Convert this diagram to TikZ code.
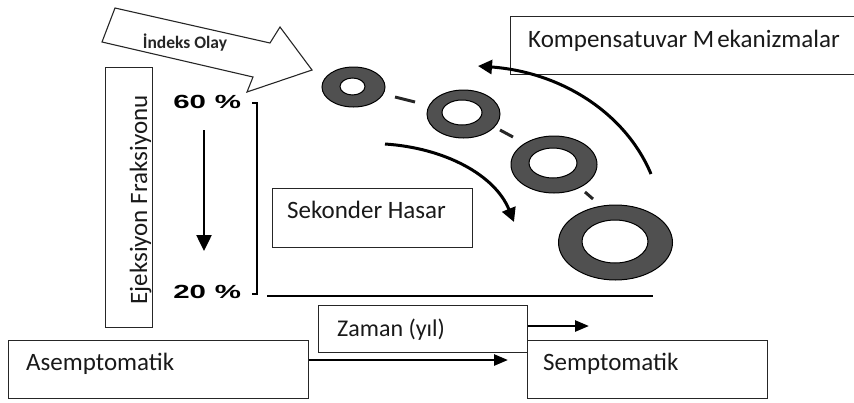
\documentclass[tikz,border=0pt]{standalone}
\usepackage{fontspec}
\setmainfont{Carlito}
\newfontfamily\arialfont{Liberation Sans}
\usetikzlibrary{arrows.meta,calc}
\definecolor{ringgray}{HTML}{505050}
\begin{document}
\begin{tikzpicture}[x=1pt,y=-1pt,
  box/.style={draw=black!85,line width=1.3pt,rectangle,inner sep=0pt,anchor=north west},
  lbl/.style={inner sep=0pt,anchor=base west,font=\fontsize{25}{30}\selectfont,text=black!90},
  pct/.style={inner sep=0pt,anchor=base west,xscale=1.55,font=\arialfont\bfseries\fontsize{19}{23}\selectfont},
  ring/.style={draw=black,line width=1pt,fill=ringgray,even odd rule},
  thick arrow/.style={line width=3pt,-{Triangle[length=14pt,width=14pt]}},
  flat arrow/.style={line width=2.6pt,-{Triangle[length=14pt,width=11pt]}},
  dashseg/.style={line width=3pt,black!85}]
\useasboundingbox (0,0) rectangle (854,402);

% Index Olay block arrow
\draw[line width=1.1pt,black!85,line join=miter]
  (115,8) -- (270,43) -- (280,27) -- (312,70) -- (247,92) -- (253,77) -- (102,42) -- cycle;
\node[inner sep=0pt,font=\bfseries\fontsize{17.5}{20}\selectfont,text=black!85] (indeks) at (185,43) {İndeks Olay};

% Ejeksiyon Fraksiyonu box
\node[box,minimum width=47pt,minimum height=260pt] (ejbox) at (105,67) {};
\node[inner sep=0pt,anchor=base,rotate=90,font=\fontsize{25}{30}\selectfont,text=black!90] (ejtext) at (147,200) {Ejeksiyon Fraksiyonu};

% percentages
\node[pct] (p60) at (173,108) {60\hspace{0.3em}\%};
\node[pct] (p20) at (173,298) {20\hspace{0.3em}\%};

% bracket and axis
\coordinate (brtop) at (257,103);
\coordinate (brbot) at (257,294);
\draw[line width=2.5pt] (252,103) -- (brtop) -- (brbot) -- (252,294);
\coordinate (axl) at (267,296);
\coordinate (axr) at (653,296);
\draw[line width=2.8pt] (axl) -- (axr);

% down arrow
\coordinate (dtop) at (204,130);
\coordinate (dbot) at (204,251);
\draw[line width=2.5pt,-{Triangle[length=16pt,width=15pt]}] (dtop) -- (dbot);

% Sekonder Hasar box
\node[box,minimum width=200pt,minimum height=59pt] (sekbox) at (272,188) {};
\node[lbl] (sektext) at (287,218) {Sekonder Hasar};

% Kompensatuvar box
\node[box,minimum width=350pt,minimum height=58pt] (kombox) at (510,16) {};
\node[lbl] (komtext) at (528,47) {Kompensatuvar M\kern3pt ekanizmalar};

% rings
\filldraw[ring] (353.5,87) ellipse (31.5 and 20) (352.5,86.5) ellipse (12.5 and 8.5);
\filldraw[ring] (463.5,114) ellipse (36.5 and 24) (462,112.5) ellipse (20 and 12.5);
\filldraw[ring] (554,164.5) ellipse (43 and 28.5) (553,163) ellipse (24 and 15);
\filldraw[ring] (615.5,242.5) ellipse (57 and 37.5) (615,241.5) ellipse (33 and 21.5);

% dashes between rings
\draw[dashseg] (395,97) -- (415,102);
\draw[dashseg] (500,130) -- (513,137);
\draw[dashseg] (585,192) -- (593,199);

% curved arrows
\coordinate (sekA) at (385,144);
\coordinate (sekB) at (514,222);
\draw[thick arrow] (sekA) .. controls (445,148) and (495,175) .. (sekB);
\coordinate (komA) at (651,174);
\coordinate (komB) at (478,66);
\draw[thick arrow] (komA) .. controls (625,112) and (560,72) .. (komB);

% bottom boxes
\node[box,minimum width=300pt,minimum height=58pt] (asym) at (8,340) {};
\node[lbl] (asymtext) at (26,370) {Asemptomatik};
\node[box,minimum width=209pt,minimum height=47pt] (zaman) at (318,305) {};
\node[lbl,font=\fontsize{24}{28}\selectfont] (zamantext) at (337,336) {Zaman (yıl)};
\node[box,minimum width=240pt,minimum height=58pt] (sym) at (527,340) {};
\node[lbl] (symtext) at (543,370) {Semptomatik};

\coordinate (zend) at (589,326);
\draw[flat arrow] (zaman.east |- zend) -- (zend);
\coordinate (aend) at (508,360);
\draw[flat arrow] (asym.east |- aend) -- (aend);
\end{tikzpicture}
\end{document}
